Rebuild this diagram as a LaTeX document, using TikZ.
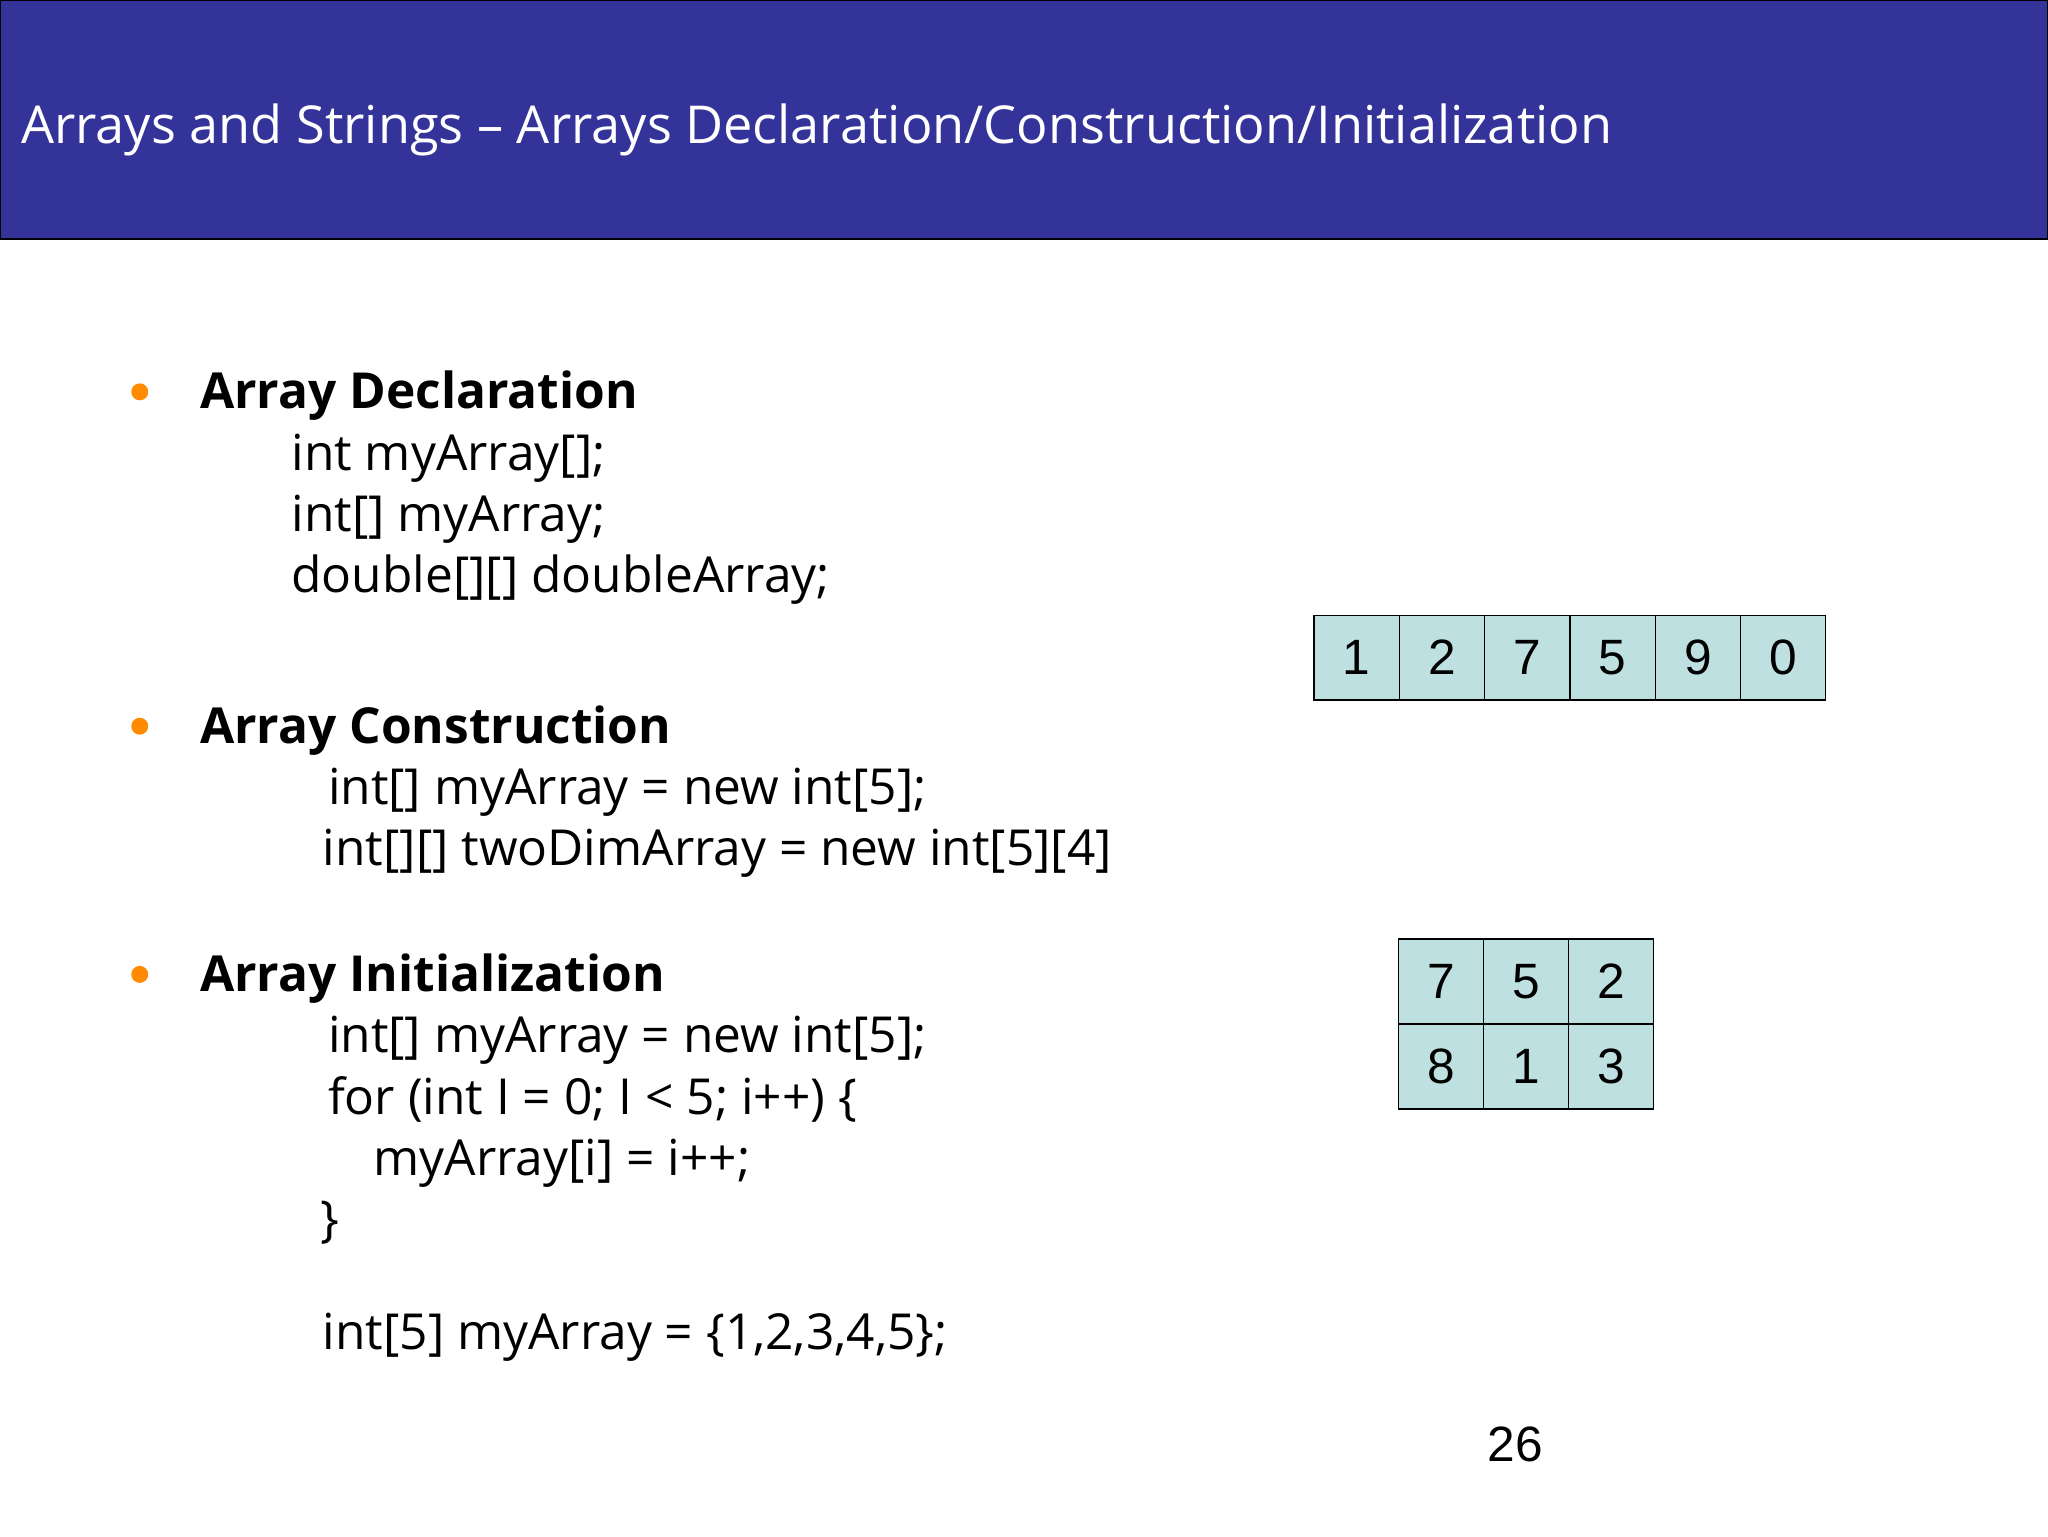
\documentclass[tikz,border=0pt]{standalone}
\usepackage{fontspec}
\setmainfont{Open Sans}
\newfontfamily\arialf{Liberation Sans}
\begin{document}
\begin{tikzpicture}[x=1pt,y=-1pt,
  txt/.style={anchor=base west,inner sep=0pt,font=\fontsize{38}{44}\selectfont},
  hd/.style={txt,font=\fontsize{38}{44}\selectfont\bfseries},
  cell/.style={draw=black,line width=1pt,fill=cellc,minimum width=65.3pt,minimum height=65pt,inner sep=0pt,font=\arialf\fontsize{38}{44}\selectfont},
  bul/.style={circle,fill=orange!90!yellow,inner sep=0pt,minimum size=13pt}]
\definecolor{titlec}{HTML}{333399}
\definecolor{cellc}{HTML}{BFE0E0}
\useasboundingbox (0,0) rectangle (1568,1176);
\fill[white] (0,0) rectangle (1568,1176);
\draw[fill=titlec,draw=black,line width=1pt] (0,0) rectangle (1568,183);
\node[txt,text=white,font=\fontsize{40}{46}\selectfont] (title) at (16,110) {Arrays and Strings – Arrays Declaration/Construction/Initialization};
% bullets
\node[bul] (b1) at (107,300) {};
\node[bul] (b2) at (107,556) {};
\node[bul] (b3) at (107,746) {};
\node[hd] (h1) at (153,313) {Array Declaration};
\node[txt] (l1) at (223,360) {int myArray[];};
\node[txt] (l2) at (223,407) {int[] myArray;};
\node[txt] (l3) at (223,454) {double[][] doubleArray;};
\node[hd] (h2) at (153,569) {Array Construction};
\node[txt] (l4) at (251,616) {int[] myArray = new int[5];};
\node[txt] (l5) at (247,663) {int[][] twoDimArray = new int[5][4]};
\node[hd] (h3) at (153,759) {Array Initialization};
\node[txt] (l6) at (251,806) {int[] myArray = new int[5];};
\node[txt] (l7) at (251,853) {for (int I = 0; I < 5; i++) \{};
\node[txt] (l8) at (286,900) {myArray[i] = i++;};
\node[txt] (l9) at (245,947) {\}};
\node[txt] (l10) at (247,1033) {int[5] myArray = \{1,2,3,4,5\};};
% 1D array
\foreach \v [count=\i from 0] in {1,2,7,5,9,0}
  \node[cell] (a\i) at (1038.7+65.3*\i,503.5) {\v};
% 2D
\foreach \v [count=\i from 0] in {7,5,2}
  \node[cell] (t\i) at (1103.5+65*\i,751.5) {\v};
\foreach \v [count=\i from 0] in {8,1,3}
  \node[cell] (u\i) at (1103.5+65*\i,816.5) {\v};
\node[anchor=base,inner sep=0pt,font=\arialf\fontsize{38}{44}\selectfont] (pg) at (1160,1119) {26};
\end{tikzpicture}
\end{document}
